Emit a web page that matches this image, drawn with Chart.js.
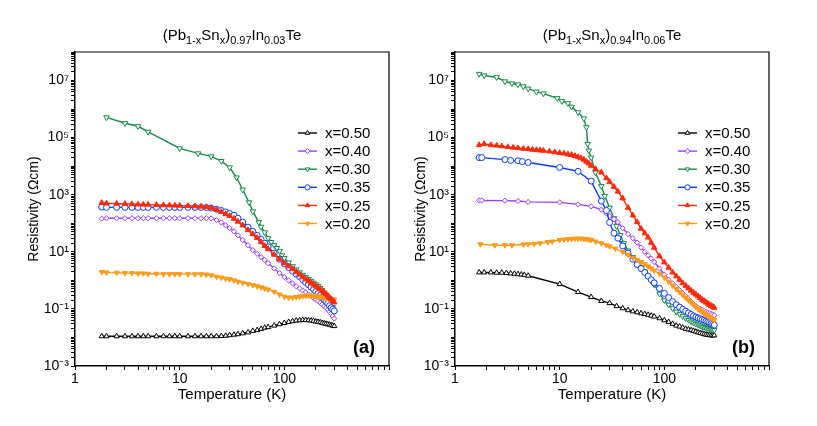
<!DOCTYPE html>
<html>
<head>
<meta charset="utf-8">
<script src="https://cdn.jsdelivr.net/npm/chart.js@4.4.1/dist/chart.umd.min.js"></script>
<style>
  html, body { margin: 0; padding: 0; background: #fff; }
  #wrap { position: relative; width: 817px; height: 426px; }
  canvas { position: absolute; top: 0; }
  #chart-a { left: 0; }
  #chart-b { left: 408px; }
</style>
</head>
<body>
<div id="wrap">
  <canvas id="chart-a" width="408" height="426"></canvas>
  <canvas id="chart-b" width="409" height="426"></canvas>
</div>
<script>
/* ── series meta (legend order) ───────────────── */
const seriesLabels = ["x=0.50", "x=0.40", "x=0.30", "x=0.35", "x=0.25", "x=0.20"];
const seriesColors = ["#000000", "#9b3cff", "#13894c", "#0a3cff", "#ff2a0a", "#ff9a1a"];

/* ── axis ticks ───────────────────────────────── */
const xLabelVals = [1, 10, 100];
const xLabelText = ["1", "10", "100"];
const yLabelVals = [1e-3, 1e-1, 1e1, 1e3, 1e5, 1e7];
const yLabelText = ["10\u207B\u00B3", "10\u207B\u00B9", "10\u00B9", "10\u00B3", "10\u2075", "10\u2077"];

/* ── panel (a): (Pb1-xSnx)0.97In0.03Te ────────── */
const tA = [1.8, 2, 2.5, 3, 3.5, 4, 4.5, 5, 6, 7, 8, 9, 10, 12, 14, 16, 18, 20,
  22.5, 25, 27.5, 30, 33, 36, 40, 45, 50, 55, 60, 65, 70, 80, 90, 100,
  110, 120, 130, 140, 150, 160, 170, 180, 190, 200, 210, 220, 230, 240, 250, 260, 270, 280, 290, 300];
const rhoA050 = [0.011, 0.011, 0.011, 0.011, 0.011, 0.011, 0.011, 0.011, 0.011, 0.011, 0.011, 0.011, 0.011, 0.011, 0.011, 0.011, 0.011, 0.011,
  0.011, 0.0112, 0.0115, 0.012, 0.0125, 0.013, 0.014, 0.015, 0.017, 0.018, 0.020, 0.022, 0.023, 0.026, 0.029, 0.032,
  0.035, 0.037, 0.039, 0.040, 0.041, 0.041, 0.040, 0.039, 0.038, 0.036, 0.035, 0.034, 0.032, 0.031, 0.030, 0.029, 0.028, 0.027, 0.026, 0.025];
const rhoA040 = [145, 150, 150, 150, 150, 150, 150, 150, 150, 150, 150, 150, 150, 150, 150, 150, 150, 148,
  130, 107, 85, 68, 52, 38, 26, 17, 11.5, 8.5, 6.5, 5.2, 4.0, 2.6, 1.8, 1.3,
  1.0, 0.78, 0.62, 0.52, 0.44, 0.38, 0.32, 0.28, 0.24, 0.21, 0.19, 0.165, 0.145, 0.125, 0.11, 0.095, 0.08, 0.068, 0.056, 0.046];
const rhoA035 = [370, 360, 360, 360, 360, 360, 360, 360, 360, 360, 360, 360, 360, 360, 360, 360, 355, 340,
  310, 280, 250, 220, 190, 150, 110, 73, 52, 38, 27, 20, 15, 9, 5.5, 3.8,
  2.8, 2.1, 1.65, 1.35, 1.05, 0.85, 0.7, 0.58, 0.48, 0.41, 0.35, 0.3, 0.255, 0.215, 0.18, 0.155, 0.13, 0.11, 0.097, 0.085];
const rhoA025 = [520, 500, 490, 480, 470, 460, 455, 450, 440, 430, 425, 420, 415, 405, 395, 385, 370, 350,
  300, 250, 210, 180, 145, 115, 85, 58, 42, 31, 22, 16, 12.5, 8, 5.5, 4.0,
  3.1, 2.5, 2.0, 1.6, 1.3, 1.1, 0.95, 0.82, 0.72, 0.63, 0.56, 0.49, 0.43, 0.38, 0.33, 0.29, 0.25, 0.22, 0.19, 0.17];
const rhoA020 = [1.95, 1.9, 1.85, 1.8, 1.8, 1.75, 1.75, 1.7, 1.7, 1.65, 1.65, 1.65, 1.65, 1.65, 1.65, 1.65, 1.6, 1.5,
  1.35, 1.25, 1.15, 1.1, 1.0, 0.9, 0.82, 0.75, 0.68, 0.62, 0.57, 0.52, 0.48, 0.4, 0.32, 0.27,
  0.25, 0.25, 0.26, 0.27, 0.28, 0.285, 0.29, 0.29, 0.285, 0.28, 0.275, 0.27, 0.26, 0.255, 0.245, 0.24, 0.23, 0.225, 0.215, 0.21];
const tA030 = [2, 3, 4, 5, 10, 15, 20, 25, 30, 35, 40, 46, 50, 57, 60, 65, 70, 75, 80, 85, 90, 95, 100,
  110, 120, 130, 140, 150, 160, 170, 180, 190, 200, 210, 220, 230, 240, 250, 260, 270, 280, 290, 300];
const rhoA030 = [5.1e5, 3.2e5, 2.5e5, 1.6e5, 4.2e4, 2.8e4, 2.2e4, 1.5e4, 9e3, 4e3, 1.5e3, 540, 260,
  108, 75, 48, 30, 22, 17, 13.5, 10.5, 7.5, 6,
  4.2, 3.1, 2.4, 1.9, 1.55, 1.3, 1.1, 0.95, 0.82, 0.72, 0.63, 0.54, 0.45, 0.37, 0.3, 0.24, 0.19, 0.15, 0.115, 0.085];

/* ── panel (b): (Pb1-xSnx)0.94In0.06Te ────────── */
const tHigh = [90, 100, 110, 120, 130, 140, 150, 160, 170, 180, 190, 200, 210, 220, 230, 240, 250, 260, 270, 280, 290, 300];
const tB050 = [1.7, 1.9, 2.2, 2.5, 2.8, 3.1, 3.4, 3.7, 4.0, 4.3, 4.6, 5.0,
  10, 15, 20, 25, 30, 35, 40, 45, 50, 55, 60, 65, 70, 75, 80, ...tHigh];
const rhoB050 = [1.9, 1.9, 1.9, 1.85, 1.85, 1.8, 1.75, 1.7, 1.65, 1.6, 1.55, 1.45,
  0.74, 0.39, 0.26, 0.19, 0.16, 0.125, 0.105, 0.09, 0.082, 0.076, 0.07, 0.066, 0.062, 0.058, 0.054,
  0.047, 0.04, 0.035, 0.03, 0.026, 0.024, 0.022, 0.02, 0.019, 0.018, 0.017, 0.016, 0.015, 0.0143, 0.0137, 0.013, 0.0126, 0.0122, 0.012, 0.0118, 0.0117, 0.0118];
const tB040 = [1.7, 1.8, 3, 4, 5, 10, 15, 20, 25, 28, 30, 33, 36, 40, 45, 50, 55, 60, 65, 70, 75, 80, ...tHigh];
const rhoB040 = [630, 630, 620, 600, 560, 540, 460, 390, 300, 220, 180, 140, 110, 67, 42, 30, 21, 14, 10, 7.5, 5.8, 4.4,
  2.6, 1.6, 1.05, 0.78, 0.6, 0.45, 0.35, 0.28, 0.22, 0.18, 0.145, 0.125, 0.11, 0.1, 0.092, 0.085, 0.079, 0.074, 0.07, 0.066, 0.063, 0.06];
const tB035 = [1.7, 1.8, 3, 3.4, 4, 4.4, 5, 10, 15, 20, 25, 28, 30, 33, 36, 40, 45, 50, 55, 60, 65, 70, 75, 80, ...tHigh];
const rhoB035 = [2.0e4, 2.0e4, 1.7e4, 1.6e4, 1.55e4, 1.45e4, 1.35e4, 9e3, 6.6e3, 3e3, 600, 280, 107, 45, 30, 16, 9, 5.5, 3.6, 2.6, 1.9, 1.4, 1.05, 0.82,
  0.52, 0.35, 0.25, 0.18, 0.14, 0.115, 0.097, 0.083, 0.072, 0.064, 0.057, 0.052, 0.048, 0.045, 0.042, 0.04, 0.037, 0.035, 0.033, 0.031, 0.029, 0.027];
const tB030 = [1.7, 1.9, 2.5, 3, 3.5, 4, 4.5, 5, 6, 7, 9.5, 10.5, 12, 13, 15, 17, 18, 18.5, 19, 20,
  22, 25, 27, 30, 33, 35, 38, 41, 45, 50, 55, 60, 65, 70, 75, 80, ...tHigh];
const rhoB030 = [1.7e7, 1.5e7, 1.3e7, 9.3e6, 7.9e6, 7.3e6, 6.2e6, 5.2e6, 4.1e6, 3.5e6,
  2.4e6, 1.9e6, 1.6e6, 1.2e6, 7.7e5, 4.7e5, 2.3e5, 6e4, 3.5e4, 2e4,
  6e3, 2e3, 900, 350, 150, 80, 38, 20, 11, 6.5, 4.2, 2.9, 2.0, 1.4, 1.0, 0.72,
  0.34, 0.2, 0.14, 0.105, 0.08, 0.065, 0.055, 0.047, 0.041, 0.036, 0.033, 0.03, 0.028, 0.026, 0.024, 0.023, 0.022, 0.021, 0.02, 0.019, 0.0185, 0.018];
const tB025 = [1.7, 1.9, 2.2, 2.5, 2.8, 3.2, 3.6, 4, 4.5, 5, 5.5, 6, 6.5, 7,
  8, 9, 10, 11, 12, 13, 14, 15, 16, 17, 18, 19, 20,
  22, 25, 28, 30, 33, 36, 40, 45, 50, 55, 60, 65, 70, 75, 80, ...tHigh];
const rhoB025 = [5.5e4, 6.0e4, 5.5e4, 5.3e4, 5.0e4, 4.7e4, 4.5e4, 4.3e4, 4.1e4, 4.0e4, 3.8e4, 3.7e4, 3.6e4, 3.5e4,
  3.3e4, 3.1e4, 2.9e4, 2.8e4, 2.6e4, 2.5e4, 2.3e4, 2.1e4, 1.9e4, 1.7e4, 1.45e4, 1.25e4, 1.05e4,
  8e3, 6e3, 3.8e3, 2.8e3, 1.9e3, 1.3e3, 750, 350, 190, 110, 65, 45, 32, 21, 14,
  7, 4.3, 2.8, 1.9, 1.4, 1.05, 0.8, 0.65, 0.53, 0.44, 0.37, 0.32, 0.28, 0.24, 0.21, 0.19, 0.17, 0.155, 0.14, 0.13, 0.12, 0.11];
const tB020 = [1.75, 2.4, 3.0, 3.5, 4.5, 5.0, 5.7, 6.5, 7.7, 8.5,
  10, 11, 12, 13, 14, 15, 16, 17, 18, 19, 20,
  22, 25, 28, 30, 34, 40, 45, 50, 55, 60, 65, 70, 75, 80, ...tHigh];
const rhoB020 = [18.5, 17, 17, 17, 18, 18.5, 19, 20, 22, 23,
  26, 27, 28, 28.5, 29, 29, 29, 28.5, 28, 27, 26,
  23, 20, 17, 15.5, 13, 10, 8, 6.2, 5.2, 4.4, 3.7, 3.1, 2.6, 2.2,
  1.7, 1.25, 0.9, 0.66, 0.5, 0.39, 0.31, 0.25, 0.2, 0.17, 0.14, 0.12, 0.1, 0.088, 0.078, 0.07, 0.063, 0.057, 0.052, 0.048, 0.044, 0.041];

/* ── marker styles (legend order) ─────────────── */
const markerStyles = [
  { style: "triangle", rot: 0,   r: 3,   open: true  },
  { style: "rectRot",  rot: 0,   r: 2.6, open: true  },
  { style: "triangle", rot: 180, r: 3.2, open: true  },
  { style: "circle",   rot: 0,   r: 3,   open: true  },
  { style: "triangle", rot: 0,   r: 3.2, open: false },
  { style: "triangle", rot: 180, r: 3,   open: false },
];
const drawOrder = [5, 3, 4, 2, 0, 1]; // lower = drawn on top

const FONT = '"Liberation Sans", Arial, Helvetica, sans-serif';
Chart.defaults.font.family = FONT;
Chart.defaults.color = "#000";

function makeSet(i, xs, ys) {
  const m = markerStyles[i];
  return {
    label: seriesLabels[i],
    data: xs.map((x, k) => ({ x, y: ys[k] })),
    borderColor: seriesColors[i],
    borderWidth: 1.4,
    pointStyle: m.style,
    pointRotation: m.rot,
    pointRadius: m.r,
    pointBackgroundColor: m.open ? "#ffffff" : seriesColors[i],
    pointBorderColor: seriesColors[i],
    pointBorderWidth: 1,
    tension: 0,
    order: drawOrder[i],
  };
}

function decadeTicks(lo, hi) {
  const out = [];
  for (let e = lo; e < hi; e++) {
    for (let m = 1; m <= 9; m++) out.push(m * Math.pow(10, e));
  }
  out.push(Math.pow(10, hi));
  return out;
}

function labelFor(v, vals, texts) {
  const i = vals.findIndex(lv => Math.abs(Math.log10(v / lv)) < 1e-6);
  return i >= 0 ? texts[i] : "";
}

// ── title, frame, tag, legend ──────────────────────
const panelDecor = {
  id: "panelDecor",
  afterDraw(chart, args, opts) {
    const { ctx, chartArea: a } = chart;
    ctx.save();

    ctx.strokeStyle = "#000";
    ctx.lineWidth = 1.2;
    ctx.beginPath();
    ctx.moveTo(a.left, a.top);
    ctx.lineTo(a.right, a.top);
    ctx.lineTo(a.right, a.bottom);
    ctx.stroke();

    // title with subscripts
    const mainFont = `15px ${FONT}`, subFont = `11px ${FONT}`;
    let w = 0;
    opts.title.forEach(([txt, sub]) => { ctx.font = sub ? subFont : mainFont; w += ctx.measureText(txt).width; });
    let x = (a.left + a.right) / 2 - w / 2;
    ctx.fillStyle = "#000";
    ctx.textAlign = "left";
    ctx.textBaseline = "alphabetic";
    opts.title.forEach(([txt, sub]) => {
      ctx.font = sub ? subFont : mainFont;
      ctx.fillText(txt, x, sub ? 44 : 40);
      x += ctx.measureText(txt).width;
    });

    // panel tag
    ctx.font = `bold 18px ${FONT}`;
    ctx.textAlign = "right";
    ctx.fillText(opts.tag, a.right - 14, a.bottom - 13);

    // legend
    seriesLabels.forEach((lab, i) => {
      const y = a.top + 81 + i * 18.1;
      const x0 = a.right - 91, x1 = a.right - 72;
      const m = markerStyles[i];
      ctx.strokeStyle = seriesColors[i];
      ctx.lineWidth = 1.4;
      ctx.beginPath(); ctx.moveTo(x0, y); ctx.lineTo(x1, y); ctx.stroke();
      ctx.fillStyle = m.open ? "#fff" : seriesColors[i];
      ctx.lineWidth = 1;
      Chart.helpers.drawPoint(ctx, { pointStyle: m.style, rotation: m.rot, radius: 2.6, borderWidth: 1 }, (x0 + x1) / 2, y);
      ctx.fillStyle = "#000";
      ctx.font = `15px ${FONT}`;
      ctx.textAlign = "left";
      ctx.textBaseline = "middle";
      ctx.fillText(lab, a.right - 64, y + 1);
    });
    ctx.restore();
  },
};

function makeChart(id, datasets, cfg) {
  return new Chart(document.getElementById(id), {
    type: "line",
    data: { datasets },
    plugins: [panelDecor],
    options: {
      responsive: false,
      animation: false,
      devicePixelRatio: 1,
      layout: { padding: { left: 0, right: cfg.padRight, top: 52, bottom: 0 } },
      plugins: {
        legend: { display: false },
        tooltip: { enabled: false },
        panelDecor: { title: cfg.title, tag: cfg.tag },
      },
      scales: {
        x: {
          type: "logarithmic",
          min: 1, max: 1000,
          afterBuildTicks: s => { s.ticks = decadeTicks(0, 3).map(v => ({ value: v })); },
          afterFit: s => { s.height = 60; },
          grid: { display: true, drawOnChartArea: false, drawTicks: true, tickLength: 4, tickColor: "#000", tickWidth: 1 },
          border: { display: true, color: "#000", width: 1.5 },
          ticks: { autoSkip: false, maxRotation: 0, padding: 1, color: "#000", font: { size: 14 },
                   callback: v => labelFor(v, xLabelVals, xLabelText) },
          title: { display: true, text: "Temperature (K)", color: "#000", font: { size: 15 },
                   padding: { top: 0, bottom: 22 } },
        },
        y: {
          type: "logarithmic",
          min: 1e-3, max: 1e8,
          afterBuildTicks: s => { s.ticks = decadeTicks(-3, 8).map(v => ({ value: v })); },
          afterFit: s => { s.width = cfg.yWidth; },
          grid: { display: true, drawOnChartArea: false, drawTicks: true, tickLength: 4, tickColor: "#000", tickWidth: 1 },
          border: { display: true, color: "#000", width: 1.5 },
          ticks: { autoSkip: false, padding: 2, color: "#000", font: { size: 14 },
                   callback: v => labelFor(v, yLabelVals, yLabelText) },
          title: { display: true, text: "Resistivity (\u03A9cm)", color: "#000", font: { size: 14 },
                   padding: { top: cfg.yTitlePad, bottom: 0 } },
        },
      },
    },
  });
}

const titleA = [["(Pb", false], ["1-x", true], ["Sn", false], ["x", true], [")", false], ["0.97", true], ["In", false], ["0.03", true], ["Te", false]];
const titleB = [["(Pb", false], ["1-x", true], ["Sn", false], ["x", true], [")", false], ["0.94", true], ["In", false], ["0.06", true], ["Te", false]];

makeChart("chart-a", [
  makeSet(0, tA, rhoA050),
  makeSet(1, tA, rhoA040),
  makeSet(2, tA030, rhoA030),
  makeSet(3, tA, rhoA035),
  makeSet(4, tA, rhoA025),
  makeSet(5, tA, rhoA020),
], { padRight: 19, yWidth: 75, yTitlePad: 26, title: titleA, tag: "(a)" });

makeChart("chart-b", [
  makeSet(0, tB050, rhoB050),
  makeSet(1, tB040, rhoB040),
  makeSet(2, tB030, rhoB030),
  makeSet(3, tB035, rhoB035),
  makeSet(4, tB025, rhoB025),
  makeSet(5, tB020, rhoB020),
], { padRight: 48, yWidth: 47, yTitlePad: 5, title: titleB, tag: "(b)" });
</script>
</body>
</html>
